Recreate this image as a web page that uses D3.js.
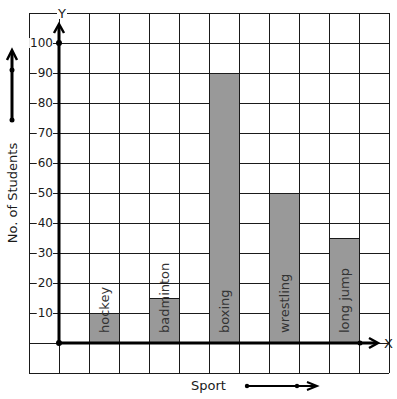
<!DOCTYPE html>
<html>
<head>
<meta charset="utf-8">
<script src="https://cdn.jsdelivr.net/npm/d3@7"></script>
<style>
  body { margin: 0; background: #fff; }
  svg { display: block; font-family: "DejaVu Sans", sans-serif; }
</style>
</head>
<body>
<svg id="chart" width="397" height="399"></svg>
<script>
const sports = ['hockey', 'badminton', 'boxing', 'wrestling', 'long jump']
const students = [10, 15, 90, 50, 35]
const yTicks = [10, 20, 30, 40, 50, 60, 70, 80, 90, 100]

const svg = d3.select('#chart')
const ink = '#1a1a1a'

// y: 10 students per grid cell, x uses the same cell size
const y = d3.scaleLinear().domain([0, 100]).range([343, 43])
const cell = d3.scaleLinear().domain([0, 12]).range([29, 389])
const x = d3.scaleBand().domain(sports).range([59, 389]).paddingInner(0.5).paddingOuter(0.5)

// GRID
const grid = svg.append('g').attr('stroke', ink).attr('stroke-width', 1).attr('shape-rendering', 'crispEdges')
grid.selectAll('line.v').data(d3.range(0, 13)).join('line')
    .attr('x1', d => cell(d)).attr('x2', d => cell(d))
    .attr('y1', y(110)).attr('y2', y(-10))
grid.selectAll('line.h').data(d3.range(-10, 111, 10)).join('line')
    .attr('x1', cell(0)).attr('x2', cell(12))
    .attr('y1', d => y(d)).attr('y2', d => y(d))

// BARS
svg.append('g').selectAll('rect').data(sports).join('rect')
    .attr('x', d => x(d))
    .attr('y', (d, i) => y(students[i]))
    .attr('width', x.bandwidth())
    .attr('height', (d, i) => y(0) - y(students[i]))
    .attr('fill', '#999999')
    .attr('stroke', ink)
    .attr('shape-rendering', 'crispEdges')

svg.append('g').selectAll('text').data(sports).join('text')
    .attr('transform', d => `translate(${x(d) + x.bandwidth() / 2}, ${y(0) - 10}) rotate(-90)`)
    .attr('dy', '0.35em')
    .attr('font-size', 13)
    .attr('fill', '#333')
    .text(d => d)

// Y TICK LABELS with white backing over grid lines
const tickG = svg.append('g').selectAll('g').data(yTicks).join('g')
    .attr('transform', d => `translate(53, ${y(d)})`)
tickG.append('text')
    .attr('text-anchor', 'end')
    .attr('dy', '0.36em')
    .attr('font-size', 12)
    .attr('fill', ink)
    .text(d => d)
tickG.each(function () {
    const t = d3.select(this).select('text')
    const b = t.node().getBBox()
    d3.select(this).insert('rect', 'text')
        .attr('x', b.x - 1).attr('y', -5).attr('width', b.width + 1).attr('height', 10)
        .attr('fill', '#fff')
})

// AXES
const axes = svg.append('g').attr('stroke', '#000').attr('fill', 'none')
axes.append('line').attr('x1', 59).attr('x2', 59).attr('y1', y(0)).attr('y2', 25).attr('stroke-width', 3)
axes.append('path').attr('d', 'M54,33 L59,24 L64,33').attr('stroke-width', 2.5)
axes.append('line').attr('x1', 59).attr('x2', 377).attr('y1', y(0)).attr('y2', y(0)).attr('stroke-width', 3)
axes.append('path').attr('d', `M369,${y(0) - 5} L378,${y(0)} L369,${y(0) + 5}`).attr('stroke-width', 2.5)

const dots = svg.append('g').attr('fill', '#000')
dots.append('circle').attr('cx', 59).attr('cy', y(0)).attr('r', 3)
dots.append('circle').attr('cx', 59).attr('cy', y(100)).attr('r', 3)
dots.append('circle').attr('cx', 360).attr('cy', y(0)).attr('r', 2.5)

svg.append('rect').attr('x', 57).attr('y', 7).attr('width', 10).attr('height', 12).attr('fill', '#fff')
svg.append('text').attr('x', 62).attr('y', 17.5).attr('text-anchor', 'middle').attr('font-size', 13).attr('fill', ink).text('Y')
svg.append('text').attr('x', 384).attr('y', 347.5).attr('font-size', 13).attr('fill', ink).text('X')

// AXIS TITLES with decorative arrows
svg.append('text')
    .attr('transform', 'translate(17, 193) rotate(-90)')
    .attr('text-anchor', 'middle')
    .attr('font-size', 13)
    .attr('fill', ink)
    .text('No. of Students')
svg.append('line').attr('x1', 12).attr('x2', 12).attr('y1', 120).attr('y2', 52).attr('stroke', '#000').attr('stroke-width', 3)
svg.append('path').attr('d', 'M7,60 L12,50 L17,60').attr('stroke', '#000').attr('stroke-width', 2.5).attr('fill', 'none')
svg.append('circle').attr('cx', 12).attr('cy', 120).attr('r', 2.5)
svg.append('circle').attr('cx', 12).attr('cy', 70).attr('r', 2.5)

svg.append('text').attr('x', 191).attr('y', 390).attr('font-size', 13).attr('fill', ink).text('Sport')
svg.append('line').attr('x1', 247).attr('x2', 316).attr('y1', 386).attr('y2', 386).attr('stroke', '#000').attr('stroke-width', 2)
svg.append('path').attr('d', 'M307,382 L317,386 L307,390').attr('stroke', '#000').attr('stroke-width', 2).attr('fill', 'none')
svg.append('circle').attr('cx', 247).attr('cy', 386).attr('r', 2.2)
svg.append('circle').attr('cx', 297).attr('cy', 386).attr('r', 2.2)
</script>
</body>
</html>
